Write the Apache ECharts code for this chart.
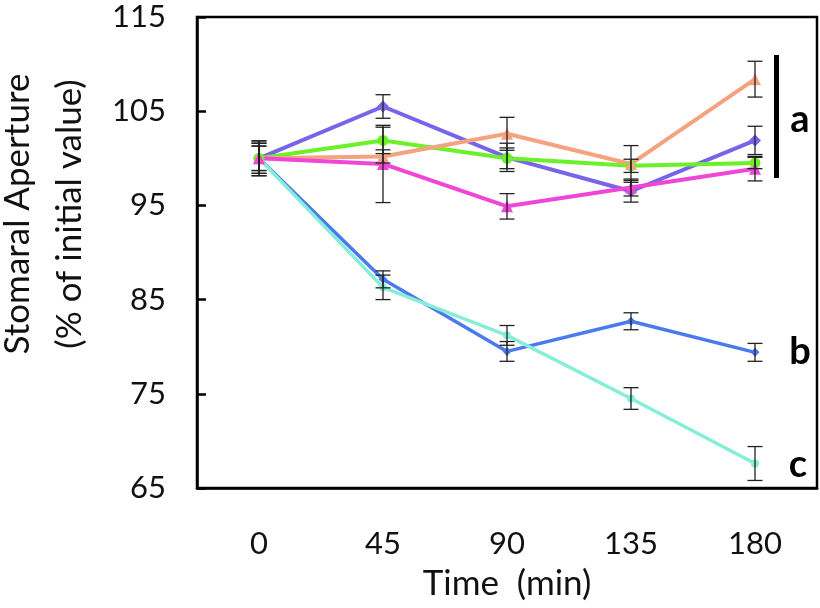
<!DOCTYPE html>
<html>
<head>
<meta charset="utf-8">
<script src="https://cdn.jsdelivr.net/npm/echarts@6/dist/echarts.min.js"></script>
<style>
  html, body { margin: 0; background: #fff; }
  #chart { width: 820px; height: 608px; }
</style>
</head>
<body>
<div id="chart"></div>
<script>
// time points (min)
const times = ['0', '45', '90', '135', '180'];

// group a
const purple = [100, 105.5, 100.1, 96.5, 101.9];
const purpleErr = [1.6, 1.25, 1.5, 1.15, 1.5];
const green = [100, 101.9, 100.0, 99.2, 99.5];
const greenErr = [1.3, 1.4, 1.1, 0.7, 0.6];
const orange = [100, 100.2, 102.6, 99.4, 108.4];
const orangeErr = [1.85, 0.7, 1.75, 1.95, 1.9];
const magenta = [100, 99.4, 94.9, 96.9, 98.9];
const magentaErr = [1.3, 4.1, 1.35, 0.9, 1.3];
// group b
const blue = [100, 87.15, 79.5, 82.7, 79.4];
const blueErr = [1.6, 0.9, 1.05, 0.9, 0.95];
// group c
const cyan = [100, 86.3, 81.2, 74.5, 67.6];
const cyanErr = [1.85, 1.3, 1.05, 1.15, 1.8];

const yMin = 65, yMax = 115, yStep = 10;
const font = 'Lato';

function errData(vals, errs) {
  return vals.map((v, i) => [i, v - errs[i], v + errs[i]]);
}

function renderErr(params, api) {
  const x = api.value(0);
  const lo = api.coord([x, api.value(1)]);
  const hi = api.coord([x, api.value(2)]);
  const w = 7.5;
  const style = { stroke: '#222', lineWidth: 1.3 };
  return {
    type: 'group',
    children: [
      { type: 'line', shape: { x1: hi[0], y1: hi[1], x2: lo[0], y2: lo[1] }, style },
      { type: 'line', shape: { x1: hi[0] - w, y1: hi[1], x2: hi[0] + w, y2: hi[1] }, style },
      { type: 'line', shape: { x1: lo[0] - w, y1: lo[1], x2: lo[0] + w, y2: lo[1] }, style }
    ]
  };
}

function lineSeries(name, data, color, symbol, size, width) {
  return {
    name, type: 'line', data, symbol, symbolSize: size,
    lineStyle: { color, width }, itemStyle: { color },
    z: 2, animation: false
  };
}

function errSeries(vals, errs) {
  return {
    type: 'custom', renderItem: renderErr, data: errData(vals, errs),
    encode: { x: 0, y: [1, 2] }, z: 3, silent: true, animation: false
  };
}

const chart = echarts.init(document.getElementById('chart'));
chart.setOption({
  animation: false,
  grid: {
    left: 197, right: 3, top: 17, bottom: 120,
    outerBoundsMode: 'none',
    show: true, borderColor: '#000', borderWidth: 2.5
  },
  xAxis: {
    type: 'category', data: times, boundaryGap: true,
    name: 'Time  (min)', nameLocation: 'middle', nameGap: 78,
    nameTextStyle: { fontFamily: font, fontSize: 35, color: '#111' },
    axisLine: { lineStyle: { color: '#000', width: 2.5 } },
    axisTick: { inside: true, length: 10, lineStyle: { color: '#000', width: 2.5 } },
    axisLabel: { margin: 40, fontFamily: font, fontSize: 31, color: '#111' },
    splitLine: { show: false }
  },
  yAxis: {
    type: 'value', min: yMin, max: yMax, interval: yStep,
    axisLine: { show: true, lineStyle: { color: '#000', width: 2.5 } },
    axisTick: { show: true, inside: true, length: 9, lineStyle: { color: '#000', width: 2.5 } },
    axisLabel: { margin: 31, fontFamily: font, fontSize: 31, color: '#111' },
    splitLine: { show: false }
  },
  graphic: [
    {
      type: 'text', x: 44, y: 214, rotation: Math.PI / 2,
      style: {
        text: 'Stomaral Aperture\n(% of initial value)',
        fontFamily: font, fontSize: 35, fill: '#111',
        align: 'center', verticalAlign: 'middle', lineHeight: 52
      }
    },
    { type: 'rect', shape: { x: 774, y: 55, width: 5, height: 123 }, style: { fill: '#000' } },
    { type: 'text', x: 800, y: 120, style: { text: 'a', fontFamily: font, fontWeight: 'bold', fontSize: 38, fill: '#000', align: 'center', verticalAlign: 'middle' } },
    { type: 'text', x: 800, y: 352, style: { text: 'b', fontFamily: font, fontWeight: 'bold', fontSize: 38, fill: '#000', align: 'center', verticalAlign: 'middle' } },
    { type: 'text', x: 798, y: 465, style: { text: 'c', fontFamily: font, fontWeight: 'bold', fontSize: 38, fill: '#000', align: 'center', verticalAlign: 'middle' } }
  ],
  series: [
    lineSeries('blue', blue, '#4a7aee', 'diamond', 9, 3.5),
    lineSeries('cyan', cyan, '#86eed8', 'circle', 8, 3.5),
    lineSeries('purple', purple, '#7764e8', 'diamond', 12, 4),
    lineSeries('green', green, '#6cf02a', 'circle', 11, 4),
    lineSeries('orange', orange, '#f5a27e', 'triangle', 12, 4),
    lineSeries('magenta', magenta, '#f046d8', 'triangle', 12, 4),
    errSeries(blue, blueErr),
    errSeries(cyan, cyanErr),
    errSeries(purple, purpleErr),
    errSeries(green, greenErr),
    errSeries(orange, orangeErr),
    errSeries(magenta, magentaErr)
  ]
});
</script>
</body>
</html>
